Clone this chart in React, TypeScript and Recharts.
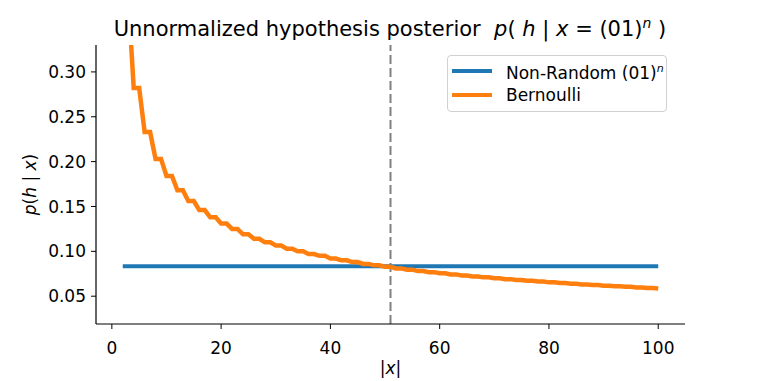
import { LineChart, Line, XAxis, YAxis, ReferenceLine } from "recharts";

// sequence length |x| starts at 2 and grows by one per point
const FIRST_LENGTH = 2;

// Bernoulli hypothesis (|x| = 2 .. 100)
const bernoulli = [
  0.385, 0.385, 0.282, 0.282, 0.233, 0.233, 0.203, 0.203, 0.184, 0.184,
  0.168, 0.168, 0.156, 0.156, 0.146, 0.146, 0.138, 0.138, 0.131, 0.131,
  0.125, 0.125, 0.119, 0.119, 0.114, 0.114, 0.11, 0.11, 0.1065, 0.1065,
  0.103, 0.103, 0.1, 0.1, 0.097, 0.097, 0.095, 0.095, 0.092, 0.092,
  0.09, 0.09, 0.088, 0.088, 0.086, 0.086, 0.0844, 0.0844, 0.0827, 0.0827,
  0.081, 0.081, 0.0796, 0.0796, 0.078, 0.078, 0.0768, 0.0768, 0.0755, 0.0755,
  0.0743, 0.0743, 0.0731, 0.0731, 0.072, 0.072, 0.071, 0.071, 0.07, 0.07,
  0.069, 0.069, 0.068, 0.068, 0.0671, 0.0671, 0.0663, 0.0663, 0.0654, 0.0654,
  0.0646, 0.0646, 0.0639, 0.0639, 0.0631, 0.0631, 0.0624, 0.0624, 0.0617, 0.0617,
  0.061, 0.061, 0.0604, 0.0604, 0.0598, 0.0598, 0.0591, 0.0591, 0.0586,
];

// Non-random (01)^n hypothesis is flat
const nonRandom = 0.0833;

// dashed marker where the two curves cross
const crossover = 51;

const xTicks = [0, 20, 40, 60, 80, 100];
const yTicks = [0.05, 0.1, 0.15, 0.2, 0.25, 0.3];
const xDomain = [-2.9, 104.9];
const yDomain = [0.019, 0.33];

const BLUE = "#1f77b4";
const ORANGE = "#ff7f0e";
const FONT = "'DejaVu Sans', sans-serif";

const data = bernoulli.map((b, i) => ({
  n: FIRST_LENGTH + i,
  bernoulli: b,
  nonRandom,
}));

const tickStyle = { fontSize: 17, fill: "#000", fontFamily: FONT };
const axisLine = { stroke: "#000", strokeWidth: 1.2 };

function YLabel({ viewBox }: any) {
  const cx = viewBox.x - 0;
  const cy = viewBox.y + viewBox.height / 2;
  return (
    <text
      x={cx}
      y={cy}
      transform={`rotate(-90 ${cx} ${cy})`}
      textAnchor="middle"
      fontSize={17}
      fontFamily={FONT}
      fill="#000"
    >
      <tspan fontStyle="italic">p</tspan>
      <tspan>(</tspan>
      <tspan fontStyle="italic">h</tspan>
      <tspan> | </tspan>
      <tspan fontStyle="italic">x</tspan>
      <tspan>)</tspan>
    </text>
  );
}

function XLabel({ viewBox }: any) {
  return (
    <text
      x={viewBox.x + viewBox.width / 2}
      y={374}
      textAnchor="middle"
      fontSize={17}
      fontFamily={FONT}
      fill="#000"
    >
      <tspan>|</tspan>
      <tspan fontStyle="italic">x</tspan>
      <tspan>|</tspan>
    </text>
  );
}

const legendItems = [
  { key: "nonRandom", color: BLUE, label: <>Non-Random (01)<sup style={{ fontStyle: "italic", fontSize: 11 }}>n</sup></> },
  { key: "bernoulli", color: ORANGE, label: <>Bernoulli</> },
];

export default function App() {
  return (
    <div
      style={{
        position: "absolute",
        left: 0,
        top: 0,
        width: 761,
        height: 381,
        background: "#fff",
        fontFamily: FONT,
      }}
    >
      <div
        style={{
          position: "absolute",
          left: 0,
          width: 780,
          top: 15,
          textAlign: "center",
          fontSize: 21,
          whiteSpace: "pre",
        }}
      >
        {"Unnormalized hypothesis posterior  "}
        <i>p</i>( <i>h</i> | <i>x</i> = (01)
        <sup style={{ fontStyle: "italic", fontSize: 14 }}>n</sup> )
      </div>

      <LineChart
        width={761}
        height={381}
        data={data}
        margin={{ top: 45, right: 76, bottom: 17, left: 36 }}
      >
        <XAxis
          dataKey="n"
          type="number"
          domain={xDomain}
          ticks={xTicks}
          allowDataOverflow
          tick={tickStyle}
          tickSize={5}
          tickMargin={13}
          height={40}
          axisLine={axisLine}
          tickLine={{ stroke: "#000" }}
          label={<XLabel />}
        />
        <YAxis
          type="number"
          domain={yDomain}
          ticks={yTicks}
          allowDataOverflow
          tickFormatter={(v: number) => v.toFixed(2)}
          tick={tickStyle}
          tickSize={5}
          tickMargin={5}
          width={60}
          axisLine={axisLine}
          tickLine={{ stroke: "#000" }}
          label={<YLabel />}
        />
        <ReferenceLine
          x={crossover}
          stroke="#808080"
          strokeWidth={2}
          strokeDasharray="9 4"
        />
        <Line
          type="linear"
          dataKey="nonRandom"
          stroke={BLUE}
          strokeWidth={4}
          dot={false}
          isAnimationActive={false}
        />
        <Line
          type="linear"
          dataKey="bernoulli"
          stroke={ORANGE}
          strokeWidth={4.5}
          strokeLinejoin="miter"
          dot={false}
          isAnimationActive={false}
        />
      </LineChart>

      <div
        style={{
          position: "absolute",
          left: 447,
          top: 55,
          width: 220,
          height: 57,
          boxSizing: "border-box",
          border: "1px solid #d0d0d0",
          borderRadius: 4,
          background: "rgba(255,255,255,0.8)",
          fontSize: 17,
          padding: "3px 0 0 4px",
        }}
      >
        {legendItems.map((it) => (
          <div key={it.key} style={{ display: "flex", alignItems: "center", height: 24 }}>
            <span
              style={{
                display: "inline-block",
                width: 40,
                height: 4,
                background: it.color,
                marginRight: 14,
              }}
            />
            <span style={{ lineHeight: "24px" }}>{it.label}</span>
          </div>
        ))}
      </div>
    </div>
  );
}
